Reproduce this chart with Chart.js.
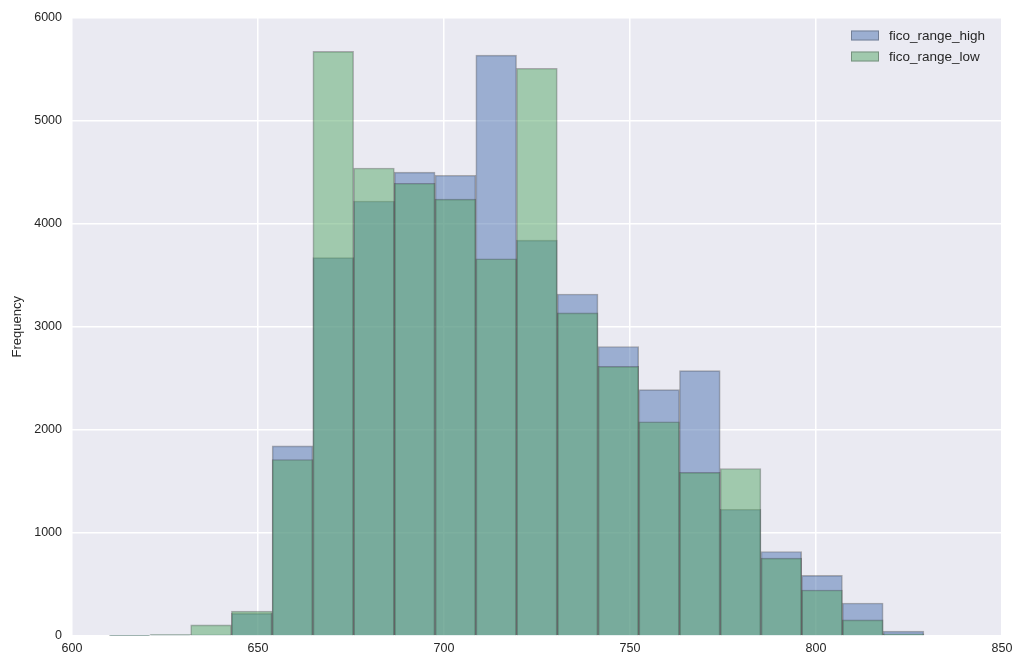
<!DOCTYPE html>
<html>
<head>
<meta charset="utf-8">
<script src="https://cdn.jsdelivr.net/npm/chart.js@4.4.1/dist/chart.umd.min.js"></script>
<style>
  html, body { margin: 0; padding: 0; background: #fff; }
  #wrap { width: 1023px; height: 670px; position: relative; }
</style>
</head>
<body>
<div id="wrap"><canvas id="hist"></canvas></div>
<script>
// bin midpoints (20 bins from 610 to 829)
const binMid = [615.475, 626.425, 637.375, 648.325, 659.275, 670.225, 681.175, 692.125, 703.075, 714.025,
                724.975, 735.925, 746.875, 757.825, 768.775, 779.725, 790.675, 801.625, 812.575, 823.525];

const ficoHigh = [5, 10, 12, 220, 1845, 3670, 4220, 4500, 4470, 5635,
                  3840, 3318, 2808, 2390, 2575, 1230, 820, 588, 320, 48];
const ficoLow = [5, 14, 108, 242, 1712, 5672, 4540, 4392, 4238, 3660,
                 5508, 3134, 2615, 2078, 1588, 1625, 756, 446, 156, 22];

const seriesNames = ["fico_range_high", "fico_range_low"];
const xTicks = [600, 650, 700, 750, 800, 850];
const yTicks = [0, 1000, 2000, 3000, 4000, 5000, 6000];

const blueFill = "rgba(76, 114, 176, 0.5)";
const greenFill = "rgba(85, 168, 104, 0.5)";
const edge = "rgba(40, 40, 40, 0.35)";
const fontFam = "'Liberation Sans', Arial, sans-serif";

function toPoints(vals) {
  return binMid.map((x, i) => ({ x: x, y: vals[i] }));
}

// grauwe achtergrond van het plotvlak
const plotBg = {
  id: "plotBg",
  beforeDraw(chart) {
    const a = chart.chartArea;
    const c = chart.ctx;
    c.save();
    c.fillStyle = "#EAEAF2";
    c.fillRect(a.left, a.top, a.right - a.left, a.bottom - a.top);
    c.restore();
  }
};

// legenda rechtsboven in het plotvlak
const cornerLegend = {
  id: "cornerLegend",
  afterDraw(chart) {
    const c = chart.ctx;
    c.save();
    c.font = "13.5px " + fontFam;
    c.textBaseline = "middle";
    chart.data.datasets.forEach((ds, i) => {
      const y = 35.5 + i * 21;
      const bx = 851;
      c.fillStyle = "#EAEAF2";
      c.fillRect(bx, y - 5, 28, 10);
      c.fillStyle = ds.backgroundColor;
      c.fillRect(bx, y - 5, 28, 10);
      c.strokeStyle = ds.borderColor;
      c.lineWidth = 1;
      c.strokeRect(bx + 0.5, y - 4.5, 27, 9);
      c.fillStyle = "#262626";
      c.fillText(ds.label, bx + 38, y + 1);
    });
    c.restore();
  }
};

new Chart(document.getElementById("hist"), {
  type: "bar",
  data: {
    datasets: [
      {
        label: seriesNames[0],
        data: toPoints(ficoHigh),
        backgroundColor: blueFill,
        borderColor: edge,
        borderWidth: 1,
        order: 1
      },
      {
        label: seriesNames[1],
        data: toPoints(ficoLow),
        backgroundColor: greenFill,
        borderColor: edge,
        borderWidth: 1,
        order: 0
      }
    ]
  },
  options: {
    responsive: true,
    maintainAspectRatio: false,
    animation: false,
    grouped: false,
    barPercentage: 1,
    categoryPercentage: 1,
    layout: { padding: { left: 0, right: 21, top: 16, bottom: 0 } },
    plugins: {
      legend: { display: false },
      tooltip: { enabled: false }
    },
    scales: {
      x: {
        type: "linear",
        min: 600,
        max: 850,
        offset: false,
        afterBuildTicks(scale) { scale.ticks = xTicks.map(v => ({ value: v })); },
        afterFit(scale) { scale.height = 34; },
        grid: { color: "#ffffff", lineWidth: 1.5, drawTicks: false, offset: false },
        border: { display: false },
        ticks: {
          padding: 5,
          color: "#262626",
          callback: v => String(v),
          font: { family: fontFam, size: 12.5 }
        }
      },
      y: {
        min: 0,
        max: 6000,
        afterBuildTicks(scale) { scale.ticks = yTicks.map(v => ({ value: v })); },
        afterFit(scale) { scale.width = 72; },
        grid: { color: "#ffffff", lineWidth: 1.5, drawTicks: false },
        border: { display: false },
        title: {
          display: true,
          text: "Frequency",
          color: "#262626",
          padding: { top: 10, bottom: 0 },
          font: { family: fontFam, size: 13 }
        },
        ticks: {
          padding: 10,
          color: "#262626",
          callback: v => String(v),
          font: { family: fontFam, size: 12.5 }
        }
      }
    }
  },
  plugins: [plotBg, cornerLegend]
});
</script>
</body>
</html>
